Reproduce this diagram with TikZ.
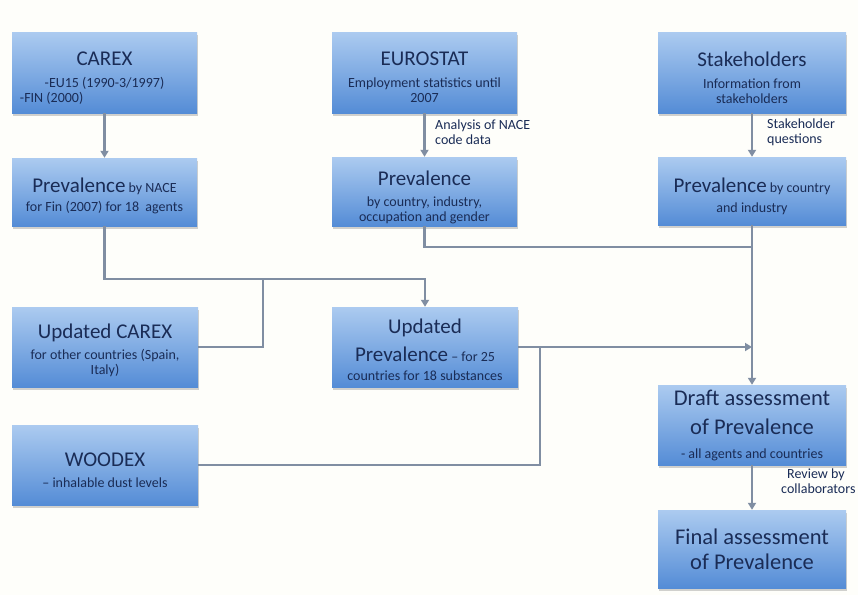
\documentclass[tikz,border=0pt]{standalone}
\usepackage{fontspec}
\setmainfont{Carlito}
\usetikzlibrary{arrows.meta,shadows,calc}
\definecolor{bgc}{RGB}{254,254,250}
\definecolor{boxtop}{RGB}{172,203,240}
\definecolor{boxbot}{RGB}{84,140,214}
\definecolor{txt}{RGB}{26,44,86}
\definecolor{lnc}{RGB}{128,142,162}
\newcommand\ttl[1]{{\fontsize{21}{24}\selectfont #1}}
\newcommand\sml{\fontsize{14}{15}\selectfont}
\newcommand\bigfnt{\fontsize{22.5}{29}\selectfont}
\begin{document}
\begin{tikzpicture}[x=1pt,y=-1pt,
  boxnode/.style={rectangle, top color=boxtop, bottom color=boxbot, draw=none,
    text=txt, align=flush center, inner xsep=3pt, inner ysep=0pt, font=\sml,
    drop shadow={shadow xshift=1pt,shadow yshift=-3pt,opacity=0.3,fill=black!60}},
  dn/.style={execute at begin node={\rule{0pt}{#1}}},
  wbox/.style={minimum width=185pt, text width=177pt},
  conn/.style={draw=lnc, line width=2.2pt},
  arr/.style={conn, -{Triangle[length=7pt,width=8pt]}},
  lbl/.style={text=txt, font=\sml, align=left, inner sep=0pt, anchor=north west}]
\path[use as bounding box, fill=bgc] (0,0) rectangle (858,595);

% row 1
\node[boxnode, wbox, minimum height=81pt, dn=25.5pt] (carex) at (104.5,72.5)
  {\ttl{CAREX}\\[7pt] -EU15 (1990-3/1997)\\ \makebox[\linewidth][l]{\hspace{4pt}-FIN (2000)}};
\node[boxnode, wbox, minimum height=81pt, dn=23.5pt] (euro) at (424.5,72.5)
  {\ttl{EUROSTAT}\\[7pt] Employment statistics until\\ 2007};
\node[boxnode, minimum width=188pt, text width=180pt, minimum height=81pt, dn=24.7pt] (stake) at (752,72.5)
  {\ttl{Stakeholders}\\[7pt] Information from\\ stakeholders};

% row 2
\node[boxnode, wbox, minimum height=68pt, dn=22.7pt] (prevL) at (104.5,192)
  {\ttl{Prevalence} by NACE\\[4pt] for Fin (2007) for 18~~agents};
\node[boxnode, wbox, minimum height=69pt, dn=26.7pt] (prevM) at (424.5,191.5)
  {\ttl{Prevalence}\\[6pt] by country, industry,\\ occupation and gender};
\node[boxnode, minimum width=188pt, text width=180pt, minimum height=68pt, dn=24.7pt] (prevR) at (752,191)
  {\ttl{Prevalence} by country\\[5pt] and industry};

% row 3
\node[boxnode, wbox, minimum width=186pt, minimum height=80pt, dn=20.7pt] (updC) at (105,347)
  {\ttl{Updated CAREX}\\[6pt] for other countries (Spain,\\ Italy)};
\node[boxnode, wbox, minimum width=186pt, minimum height=80pt, dn=20.7pt] (updP) at (425,347)
  {\ttl{Updated}\\[9pt] \ttl{Prevalence} -- for 25\\[4pt] countries for 18 substances};

% row 4
\node[boxnode, wbox, minimum width=186pt, minimum height=80pt, dn=23.5pt] (wood) at (105,465)
  {\ttl{WOODEX}\\[6pt] -- inhalable dust levels};
\node[boxnode, minimum width=188pt, text width=182pt, minimum height=80pt, font=\bigfnt] (draft) at (752,425)
  {Draft assessment\\ of Prevalence\\[-5pt] {\sml - all agents and countries}};
\node[boxnode, minimum width=188pt, text width=182pt, minimum height=78pt, font=\fontsize{22.5}{25}\selectfont] (final) at (752,549)
  {Final assessment\\ of Prevalence};

% junctions
\coordinate (j1) at (263,279);
\coordinate (j2) at (752,247);
\coordinate (j3) at (540,347);

% connectors
\draw[arr] (carex.south) -- (prevL.north);
\draw[arr] (prevL.south) |- (j1) -| (updP.north);
\draw[conn] (updC.east) -| (j1);
\draw[arr] (euro.south) -- (prevM.north);
\draw[conn] (prevM.south) |- (j2);
\draw[arr] (stake.south) -- (prevR.north);
\draw[arr] (prevR.south) -- (draft.north);
\draw[arr] (updP.east) -- (updP.east -| draft.north);
\draw[conn] (wood.east) -| (j3);
\draw[arr] (draft.south) -- (final.north);

% labels
\node[lbl] (l1) at (435,120) {Analysis of NACE\\ code data};
\node[lbl] (l2) at (767,119) {Stakeholder\\ questions};
\node[lbl] (l3) at (781,469) {\hspace{6pt}Review by\\ collaborators};
\end{tikzpicture}
\end{document}
